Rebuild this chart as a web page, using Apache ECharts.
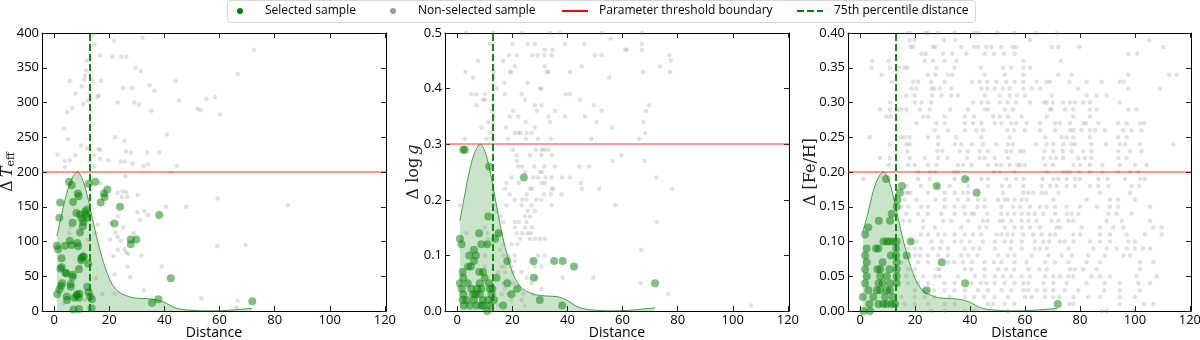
<!DOCTYPE html>
<html>
<head>
<meta charset="utf-8">
<script src="https://cdn.jsdelivr.net/npm/echarts@6/dist/echarts.min.js"></script>
<style>
  html, body { margin: 0; padding: 0; background: #fff; }
  #chart { width: 1200px; height: 340px; }
</style>
</head>
<body>
<div id="chart"></div>
<script>
(function() {
  // shared x axis
  const xTicks = [0, 20, 40, 60, 80, 100, 120];
  const xRange = [-4.4, 120.4];
  const p75Distance = 12.8;

  // KDE of selected-sample distance, scaled to each threshold
  const kdeX = [1.0, 2.8, 4.6, 6.4, 8.4, 10, 11.8, 13, 14.8, 16.6, 18.4, 20.2, 22, 23.9, 26.3, 28.7, 32.3, 35.9, 38.3, 40.7, 43.1, 45.5, 50, 55, 60, 65, 71.7];
  const kdeTeff = [108, 140, 170, 190, 200, 192, 170, 149, 117, 88, 64, 45, 33, 26, 22, 19, 18, 17, 15, 11, 6, 3, 1, 0.2, 0.3, 1.6, 3.8];
  const kdeLogg = [0.162, 0.21, 0.255, 0.285, 0.3, 0.288, 0.255, 0.224, 0.176, 0.132, 0.096, 0.068, 0.05, 0.039, 0.033, 0.029, 0.027, 0.026, 0.023, 0.017, 0.009, 0.0045, 0.0015, 0.0003, 0.0005, 0.0024, 0.0057];
  const kdeFeh = [0.114, 0.14, 0.17, 0.19, 0.2, 0.192, 0.17, 0.149, 0.117, 0.088, 0.064, 0.045, 0.033, 0.026, 0.022, 0.019, 0.018, 0.017, 0.015, 0.011, 0.006, 0.003, 0.001, 0.0002, 0.0003, 0.0016, 0.0038];

  // panel 1: delta Teff
  const teffSel = [[5.4,186],[6.4,181],[2.2,156],[1.9,134],[8.6,169],[8.9,165],[6.9,157],[12.5,183],[14.9,186],[18.1,169],[19.3,175],[18.3,164],[16.9,156],[23.9,150],[21.9,126],[27.8,103],[27.8,96],[29.8,103],[38.1,138],[42.3,47],[37.8,17],[35.5,12],[8.1,141],[9.4,139],[10,133],[10.6,128],[11.2,143],[11.6,139],[12,146],[12,134],[10.4,122],[6.7,127],[9.4,113],[5.7,101],[6.3,95],[8.4,98],[8.7,93],[4,94],[1,94],[1.4,89],[2.7,76],[2.3,61],[2.8,63],[9.8,76],[10.4,78],[4.5,54],[6.7,49],[9,60],[12.4,68],[6,39],[6,35],[2.5,36],[1.9,31],[1.1,24],[4.6,21],[8.3,24],[9,19],[7.4,19],[12,35],[13,21],[13.7,17],[9,3],[7,2],[12.5,27],[71.9,14],[2.9,40],[4.1,55],[6.8,52],[9.9,73],[10.8,78],[13.6,4],[8.2,22],[9.2,25],[4.7,16]];
  const teffNon = [[14,397],[14.6,383],[21.8,389],[32.1,393],[72.5,376],[16.7,368],[21.1,366],[24.3,366],[26.2,366],[11.8,360],[11.6,346],[29.5,350],[31.4,345],[11.2,339],[5.6,331],[10.9,333],[14,331],[17,331],[44.1,331],[66.6,341],[10,323],[25.1,321],[28.4,321],[34.6,325],[36.4,317],[7.7,313],[16.2,310],[15.7,308],[10.6,298],[12.1,303],[23,300],[29.1,300],[30.8,297],[45.3,303],[52,291],[53.2,289],[55.3,305],[58.4,308],[60.2,283],[6.6,292],[4.8,286],[35.4,288],[3.6,263],[5.1,247],[9.8,238],[7.7,224],[12,234],[16.1,233],[16.8,232],[22.1,250],[25.5,245],[40.9,254],[1.2,225],[3.9,216],[3.9,207],[5.7,217],[14.5,224],[16.7,219],[19.7,217],[24.2,215],[25.7,215],[26.1,230],[27.9,228],[28.4,212],[33.8,228],[38.2,228],[32.4,208],[34,211],[44.5,209],[42.3,199],[25.9,194],[12.8,216],[14.6,208],[16.7,184],[23,170],[24.8,172],[26.1,171],[24.5,164],[26.6,164],[30.3,167],[47.9,150],[59.3,162],[84.8,152],[30.2,142],[32.7,144],[31.2,131],[40.6,150],[34,138],[23.2,136],[20.5,126],[25.1,120],[22.3,113],[23,107],[20.3,103],[28.8,112],[24.2,101],[15.7,124],[15.1,112],[5.4,112],[6,121],[9.8,114],[23.1,88],[25.5,89],[26.1,84],[21.5,79],[26.9,82],[31.7,80],[26.6,64],[39,64],[27.6,49],[21.9,53],[15.1,47],[32.6,30],[17.5,25],[21.9,25],[59.2,93],[69.5,95],[53.4,18],[66.6,15],[66.2,5],[3.4,11],[11.2,16],[9.4,64],[11.6,73],[10.6,83],[12.1,102]];

  // panel 2: delta log g
  const loggSel = [[2.2,0.29],[2.8,0.29],[24.2,0.24],[11.6,0.26],[11.3,0.17],[1,0.13],[1.6,0.12],[8,0.14],[8.8,0.12],[6.1,0.11],[11,0.12],[13.8,0.13],[15,0.14],[4.4,0.10],[6.8,0.10],[6.1,0.09],[27.7,0.09],[35.2,0.09],[38.3,0.09],[42.4,0.08],[18.2,0.09],[27.8,0.06],[14.3,0.06],[18.2,0.05],[1,0.05],[71.8,0.05],[4,0.08],[5,0.08],[2.2,0.06],[2,0.07],[8,0.07],[9.4,0.07],[10,0.06],[3.8,0.05],[8.2,0.05],[11.6,0.05],[1.6,0.04],[5.2,0.04],[7.3,0.04],[8.8,0.04],[11.9,0.04],[12.8,0.04],[21.8,0.04],[2.2,0.03],[5.8,0.03],[6.8,0.03],[8.2,0.03],[12.5,0.03],[19.7,0.03],[2,0.02],[3.4,0.02],[6.1,0.02],[9.4,0.02],[11.3,0.02],[30,0.02],[13.4,0.02],[2.4,0.01],[4.6,0.01],[8.8,0.01],[9.4,0.01],[11.9,0.01],[16.7,0.01],[38.1,0.01],[7,0.01],[10.9,0]];
  const loggNonRows = [
    [0.50, [3.4, 13.1, 23.6, 33.7, 37.3, 52.4, 67.2]],
    [0.49, [55.7]],
    [0.48, [11.9, 20.1, 25.6, 28.2, 39.1, 46.1, 67]],
    [0.47, [31.8, 34.6, 61, 61.6, 67]],
    [0.46, [18.8, 21.6, 27.2, 29.2, 31.6, 34.3, 50, 52.4, 77]],
    [0.45, [7.6, 16.7, 77.5]],
    [0.44, [20.9, 31.8, 45.2, 73.6]],
    [0.43, [3.0, 13.4, 19.1, 19.7, 32.5, 33.1, 40.9, 67.6, 77.3]],
    [0.42, [5.8, 13.4, 55.2]],
    [0.41, [17.1, 25.6]],
    [0.40, [14.3, 30.0, 30.6]],
    [0.39, [5.2, 7.0, 10.1, 17.3, 23.4, 39.4, 40.9]],
    [0.38, [9.4, 10.1, 24.6, 44.6]],
    [0.37, [7.0, 13.1, 28.2, 30.6, 49.6, 69.6]],
    [0.36, [12.5, 20.3, 28.8, 35.5, 52.4, 68.5]],
    [0.35, [13.4, 19.1, 22.2, 33.1, 39.1, 46.4]],
    [0.34, [11.3, 13.1, 24.9, 33.7, 50.6, 67.6]],
    [0.33, [8.8, 17.7, 28.2, 56.1]],
    [0.32, [12.5, 20.9, 22.2, 23.1, 25.2, 27.0, 68.2]],
    [0.31, [2.8, 10.7, 12.8, 18.5, 24.9, 29.4, 34.0, 48.6, 66]],
    [0.29, [20.3, 28.5, 30.6, 31.6, 33.1]],
    [0.28, [21.6, 26.4, 30.6, 34.3, 59.5]],
    [0.27, [21.6, 56.4, 68]],
    [0.26, [22.2, 23.6, 28.0, 31.6, 35.5, 44.3, 47.8]],
    [0.25, [24.6, 30.0, 30.9]],
    [0.24, [19.7, 27.6, 29.4, 32.1, 34.3, 38.1, 40.9, 72.2]],
    [0.23, [17.9, 22.5, 30.6, 31.8, 44.9]],
    [0.22, [17.3, 26.4, 27.2, 34.3, 34.9, 45.2, 51.5, 78.1]],
    [0.21, [13.1, 19.1, 25.2, 31.6, 34.0, 37.9]],
    [0.20, [20.9, 23.6, 25.2, 28.8, 30.6]],
    [0.19, [1.0, 13.1, 17.9, 23.4, 27.0, 34.3, 57.3]],
    [0.18, [14.3, 25.6, 28.2]],
    [0.17, [15.9, 24.6, 26.4]],
    [0.16, [16.7, 20.9, 22.4, 25.2, 72.4]],
    [0.15, [10.1, 20.9, 24.6, 27.2]],
    [0.14, [3.4, 11.0, 14.9, 21.6, 23.6, 25.6, 26.8]],
    [0.13, [11.0, 22.8, 26.4, 28.2, 30.0, 31.8]],
    [0.12, [10.7, 16.7, 19.7, 21.9]],
    [0.11, [15.5, 66.8]],
    [0.10, [10.1, 16.7, 18.5, 20.9, 29.4, 31.8]],
    [0.09, [20.9]],
    [0.08, [10.1, 16.1, 17.3, 19.7, 28.2, 30.6]],
    [0.07, [14.9, 17.3, 20.3, 23.4]],
    [0.06, [25.2, 28.8, 38.3, 49.4]],
    [0.05, [10.1, 16.7, 20.3, 27.0, 66.6]],
    [0.04, [17.3, 30.6]],
    [0.03, [16.1, 18.5, 24.0, 27.6, 76.6]],
    [0.02, [19.7, 23.4]],
    [0.01, [11.3, 14.9, 24.6, 106.6]]
  ];

  // panel 3: delta [Fe/H]
  const fehSel = [[9.5,0.19],[15.2,0.18],[27.9,0.18],[38.2,0.19],[42.4,0.17],[14.5,0.17],[13.6,0.16],[11.5,0.14],[13.3,0.15],[6.8,0.13],[10.9,0.13],[3,0.12],[1.8,0.11],[8.5,0.10],[9.7,0.10],[10.7,0.10],[12.1,0.10],[13.3,0.10],[18.4,0.10],[2.4,0.09],[5.8,0.09],[6.7,0.09],[13.1,0.09],[1.8,0.08],[11.2,0.08],[13.1,0.08],[17,0.08],[29.7,0.07],[2.4,0.07],[8.2,0.07],[13.3,0.07],[1.8,0.06],[6.3,0.06],[7.3,0.06],[10.7,0.06],[13.3,0.06],[2.4,0.05],[7.3,0.05],[9.7,0.05],[13.3,0.05],[1.8,0.04],[6.7,0.04],[8.2,0.04],[10.9,0.04],[13.3,0.04],[38.2,0.04],[3,0.03],[6.1,0.03],[7.3,0.03],[9.7,0.03],[10.9,0.03],[24.2,0.03],[1,0.02],[4.8,0.02],[9.1,0.02],[11.9,0.02],[3.4,0.01],[6.7,0.01],[8.5,0.01],[9.7,0.01],[11.5,0.01],[12.7,0.01],[71.9,0.01],[1.2,0],[3.6,0]];
  const fehNonRows = [
    [0.40, [17.2, 18.4, 23.8, 24.7, 28.4, 34.4, 41.5, 42.9, 49.9, 56.2, 64.2, 71.5]],
    [0.39, [18, 19.9, 30.5, 34.7, 61.8, 105.2]],
    [0.38, [18.4, 19.3, 26.5, 27.4, 36.8, 41.5, 42.9, 45.9, 47.8, 51.4, 55.6, 56.8, 69.7, 72.1, 79.8, 110.3]],
    [0.37, [22.3, 23.9, 30.2, 33.5, 38.7, 45.3, 48.7, 52.4, 56.2, 97.6, 100.8]],
    [0.36, [4.4, 10.4, 23.5, 26.5, 30.8, 35, 59.4, 73]],
    [0.35, [4.1, 10.8, 14.1, 16.2, 17.2, 27.8, 34.4, 43.9, 52, 55, 59.4, 61.8]],
    [0.34, [7.8, 24.7, 27.4, 32, 33.5, 45.3, 52.6, 59.4, 72.1, 77, 97.6, 112.5, 115.2]],
    [0.33, [11.6, 19.3, 21.1, 25.9, 30.8, 40.7, 43.5, 46.3, 49.6, 53.2, 56.2, 59.4, 64.2, 67.9, 69.1, 76.1, 82.4, 87.9, 94.5, 96]],
    [0.32, [18.7, 20.5, 25.9, 26.9, 29, 33.2, 44.1, 46.3, 49, 52, 54.4, 59.4, 62.4, 65.5, 79.4, 97.6, 109.1]],
    [0.31, [16.8, 19.9, 26.2, 29.6, 33.2, 35.6, 45.3, 50.8, 54.4, 57.2, 60, 69.7, 82.4, 86.1, 89.7]],
    [0.30, [10.8, 19.9, 22.3, 25.9, 41.1, 44.1, 46.5, 50.8, 53.6, 56.8, 61.8, 67, 67.9, 70.1, 73.9, 76.4, 78.2, 81.2, 83.6, 94.5]],
    [0.29, [7.2, 10.8, 13.8, 15, 16.8, 21.7, 25.3, 32.8, 39.3, 45.3, 46.5, 52.6, 55.6, 69.1, 69.7, 74.5, 77.6, 83.6, 86.1, 97.6, 100.6]],
    [0.28, [9.6, 11.2, 22.9, 24.7, 30.8, 38.1, 41.5, 48.4, 50.8, 53.8, 58.8, 67.9, 77.6, 83.6]],
    [0.27, [20.5, 27.8, 30.8, 38.1, 41.1, 44.1, 49, 51.4, 55, 56.8, 60.6, 65.5, 70.9, 72.7, 76.4, 81.2, 82.2, 86.7, 93.9, 97, 101.8, 103.3]],
    [0.26, [27.2, 32, 38.1, 42.3, 44.7, 53.6, 56, 60, 65.5, 70.9, 76.4, 77.6, 80.6, 83.6, 85.5, 89.1, 95.8, 98.8, 102.4]],
    [0.25, [3.5, 15, 16.2, 18, 24.7, 28.4, 35, 44.1, 54.4, 67.3, 73.3, 75.2, 77.6, 83.6, 93.9, 97]],
    [0.24, [10.8, 16.8, 18, 28.4, 34.4, 36.8, 40.7, 44.7, 49.6, 53.8, 55.6, 64, 67.9, 70.3, 73.9, 77, 78.2, 84.2, 89.5, 94.5, 96.4, 101.8, 114]],
    [0.23, [17.2, 28.1, 29.9, 36.2, 39.3, 43.5, 46.5, 53.2, 55, 58.2, 59.4, 67, 70.3, 73.7, 77, 81.2, 84.2, 93.9, 98.2, 102.4]],
    [0.22, [7.2, 10.8, 18, 23.5, 28.4, 31.8, 39, 43.5, 45.3, 49, 53.8, 66.7, 69.3, 71.3, 73.9, 79.4, 81.8, 84.2, 93.9, 97]],
    [0.21, [10.4, 17.5, 19.9, 24.7, 27.8, 35.6, 37.5, 40.5, 46.5, 49.6, 51.4, 54.4, 57.2, 58.2, 60, 67.3, 70.1, 77.6, 80, 83.6, 88.2, 94.5, 100, 104.2]],
    [0.20, [21.1, 25.3, 27.2, 34.2, 35.6, 48.7, 50.8, 56.2, 67.9, 73.9, 75.2, 76.4, 79.8, 83.6, 88.2, 93.9, 98.2, 101.2]],
    [0.19, [1.1, 21.1, 25.3, 34.4, 39.3, 44.1, 46.5, 53.2, 56.8, 59.4, 66.4, 70.3, 72.1, 75.2, 78.2, 80, 86.7, 90, 96.4, 101.8, 103.6]],
    [0.18, [16.8, 22.1, 28.1, 32.6, 39.3, 46.5, 51.6, 54.4, 59.4, 66.1, 69.1, 71.5, 75.2, 78.2, 83.6, 86.7, 90.3, 98.8, 101.6]],
    [0.17, [16.8, 17.5, 18.4, 24.7, 30.8, 34.4, 37.5, 39.3, 52, 59.4, 61.2, 63, 66.1, 67.6, 72.1, 87.3, 98.2]],
    [0.16, [16.2, 20.5, 27.4, 30.8, 35.6, 39.3, 42.9, 45.3, 50.2, 52.6, 53.8, 56.2, 58.8, 60.6, 70.3, 82.4, 90.9, 93.9, 100]],
    [0.15, [15, 17.5, 22.1, 24.7, 30.8, 34.4, 37.8, 42.7, 45.3, 51.4, 55.6, 58.2, 61.8, 65.5, 67.9, 70.9, 75.2, 80, 86.1, 90.9, 93.9, 105.5]],
    [0.14, [16.8, 21.1, 24.7, 29.6, 34.4, 38.1, 40.5, 41.5, 46.3, 51.4, 53.6, 56.2, 58.8, 61.2, 63.6, 66.7, 70.9, 75.2, 77, 79.4, 90.3, 93.3, 98.8]],
    [0.13, [15.6, 18, 22.9, 30.2, 33.2, 39.3, 44.7, 46.5, 50.8, 52, 55, 58.8, 61.2, 64.2, 69.7, 72.1, 75.8, 77.6, 89.7, 95.2, 105.5]],
    [0.12, [22.9, 27.2, 36.8, 43.5, 45.9, 52.6, 56.2, 58.8, 61.8, 65.5, 71.5, 72.7, 80.6, 87.3, 92.1, 95.8, 106.7, 109.7]],
    [0.11, [22.1, 24.7, 28.4, 30.8, 34.4, 38.1, 41.1, 44.1, 49.6, 51.4, 53.6, 55.6, 59.4, 63, 66.1, 69.1, 70.9, 77.6, 80, 87.3, 90.9, 97, 103.6, 109.7]],
    [0.10, [18.7, 20.5, 25.9, 29.6, 34.4, 36.8, 39.9, 44.7, 49, 52.6, 55, 58.8, 63.6, 66.7, 68.8, 72.7, 74.5, 77.6, 83.6, 87.3, 90.9, 97.6, 100]],
    [0.09, [17.5, 19.9, 22.1, 26.5, 29, 32, 38.1, 41.1, 43.5, 49, 54.8, 58.8, 63.6, 65.5, 67.9, 75.8, 84.8, 89.7, 93.3, 97, 100, 103, 105.5]],
    [0.08, [19.9, 21.7, 24.7, 28.4, 32, 36.8, 39.3, 42.7, 50.2, 53.8, 56.2, 62.4, 68.5, 73.3, 77, 83, 89.1, 95.8, 98.2]],
    [0.07, [15, 21.1, 24.7, 32, 34.2, 37.5, 40.7, 45.3, 48.7, 51.4, 56.2, 60.6, 67.3, 70.9, 75.8, 82.4, 87.3, 101.8, 106.7]],
    [0.06, [17.5, 19.9, 28.1, 29, 38.1, 40.5, 45.3, 50.2, 53.2, 56, 61.2, 65.2, 67.9, 76.4, 78.2, 81.2, 86.1, 101.8]],
    [0.05, [16.8, 19.9, 22.9, 27.2, 29, 35.6, 41.7, 45.3, 49, 52, 55, 58.8, 61.8, 67.3, 70.3, 72.7, 75.8, 77.6, 84.2, 87.3, 90.9, 100.6, 107.9]],
    [0.04, [17.5, 21.1, 24.7, 30.8, 34.4, 40.5, 43.9, 45.9, 49, 52.6, 56.2, 59.4, 61.2, 66.7, 70.3, 75.2, 82.4, 89.1, 94.5, 101.2, 105.5]],
    [0.03, [19.9, 22.9, 24.7, 26.9, 30.8, 34.4, 38.1, 42.9, 46.5, 51.4, 55, 59.4, 61.2, 64.2, 67.3, 70.3, 74.5, 79.4, 88.8, 94.5, 101.8]],
    [0.02, [15, 19.9, 23.5, 26.9, 32.6, 38.1, 41.5, 45.1, 49, 53.8, 60, 62.4, 67.3, 70.3, 72.5, 77.6, 83, 87.3, 94.5, 100]],
    [0.01, [11.4, 16.2, 19.9, 24.7, 30.8, 34.4, 46.5, 48.4, 52.6, 56.2, 76.1, 77.6, 94.5, 103.3, 106.7]],
    [0.00, [25.9, 30.8, 38.1, 41.7, 53.8, 87.9, 89.7, 99.4]]
  ];

  const rowsToPoints = rows => rows.flatMap(([y, xs]) => xs.map(x => [x, y]));

  const panels = [{
    sel: teffSel, non: teffNon, kde: kdeTeff, thr: 200,
    yMax: 400, yStep: 50, digits: 0,
    name: '{d|Δ} {i|T}{s|eff}', nameGap: 25, left: 42, width: 344
  }, {
    sel: loggSel, non: rowsToPoints(loggNonRows), kde: kdeLogg, thr: 0.3,
    yMax: 0.5, yStep: 0.1, digits: 1,
    name: '{d|Δ log} {i|g}', nameGap: 23, left: 445, width: 344
  }, {
    sel: fehSel, non: rowsToPoints(fehNonRows), kde: kdeFeh, thr: 0.2,
    yMax: 0.4, yStep: 0.05, digits: 2,
    name: '{d|Δ [Fe/H]}', nameGap: 29, left: 848, width: 343
  }];

  const sans = '"Open Sans", "DejaVu Sans", sans-serif';
  const serif = '"DejaVu Serif", "Liberation Serif", serif';
  const tickStyle = { inside: true, length: 5, lineStyle: { color: '#222', width: 1 } };
  const lineStyle = { onZero: false, lineStyle: { color: '#000', width: 1 } };

  const grid = [], xAxis = [], yAxis = [], series = [];
  panels.forEach((p, i) => {
    grid.push({ left: p.left, width: p.width, top: 33, height: 278, containLabel: false, outerBoundsMode: 'none' });

    const xBase = {
      gridIndex: i, type: 'value', min: xRange[0], max: xRange[1],
      splitLine: { show: false }, axisLine: lineStyle,
      axisTick: Object.assign({ customValues: xTicks }, tickStyle)
    };
    xAxis.push(Object.assign({}, xBase, {
      position: 'bottom',
      name: 'Distance', nameLocation: 'middle', nameGap: 15, nameMoveOverlap: false,
      nameTextStyle: { fontFamily: sans, fontSize: 14, color: '#000' },
      axisLabel: { customValues: xTicks, margin: 3, fontFamily: sans, fontSize: 13, color: '#000' }
    }));
    xAxis.push(Object.assign({}, xBase, { position: 'top', axisLabel: { show: false } }));

    const yBase = {
      gridIndex: i, type: 'value', min: 0, max: p.yMax, interval: p.yStep,
      splitLine: { show: false }, axisLine: lineStyle, axisTick: tickStyle
    };
    yAxis.push(Object.assign({}, yBase, {
      position: 'left',
      name: p.name, nameLocation: 'middle', nameGap: p.nameGap, nameRotate: 90, nameMoveOverlap: false,
      nameTextStyle: {
        color: '#222',
        rich: {
          d: { fontFamily: serif, fontSize: 16, color: '#222' },
          i: { fontFamily: serif, fontStyle: 'italic', fontSize: 16, color: '#222' },
          s: { fontFamily: serif, fontSize: 11, color: '#222', padding: [8, 0, 0, 0] }
        }
      },
      axisLabel: {
        margin: 3, fontFamily: sans, fontSize: 13, color: '#000',
        formatter: v => v.toFixed(p.digits)
      }
    }));
    yAxis.push(Object.assign({}, yBase, { position: 'right', axisLabel: { show: false } }));

    const xi = 2 * i, yi = 2 * i;
    series.push({
      type: 'line', name: 'kde', xAxisIndex: xi, yAxisIndex: yi,
      data: kdeX.map((x, k) => [x, p.kde[k]]),
      smooth: 0.35, showSymbol: false, silent: true, z: 1,
      lineStyle: { color: 'rgba(0,128,0,0.7)', width: 1 },
      areaStyle: { color: 'rgba(0,128,0,0.3)' }
    });
    series.push({
      type: 'scatter', name: 'Non-selected sample', xAxisIndex: xi, yAxisIndex: yi,
      data: p.non, symbolSize: 4.5, z: 2,
      itemStyle: { color: 'rgba(128,128,128,0.3)' }
    });
    series.push({
      type: 'scatter', name: 'Selected sample', xAxisIndex: xi, yAxisIndex: yi,
      data: p.sel, symbolSize: 8, z: 3,
      itemStyle: { color: 'rgba(0,128,0,0.62)' }
    });
    series.push({
      type: 'line', name: 'Parameter threshold boundary', xAxisIndex: xi, yAxisIndex: yi,
      data: [], color: 'red', z: 4,
      markLine: {
        silent: true, symbol: 'none', label: { show: false }, animation: false,
        lineStyle: { color: 'rgba(255,0,0,0.55)', width: 1.5, type: 'solid' },
        data: [{ yAxis: p.thr }]
      }
    });
    series.push({
      type: 'line', name: '75th percentile distance', xAxisIndex: xi, yAxisIndex: yi,
      data: [], color: 'green', z: 5,
      markLine: {
        silent: true, symbol: 'none', label: { show: false }, animation: false,
        lineStyle: { color: '#138a13', width: 2, type: [7, 3] },
        data: [{ xAxis: p75Distance }]
      }
    });
  });

  // one legend per entry so each can sit where the reference has it
  const legendItems = [
    { left: 237, width: 12, name: 'Selected sample', icon: 'circle', color: 'green' },
    { left: 390, width: 12, name: 'Non-selected sample', icon: 'circle', color: '#9a9a9a' },
    { left: 562, width: 26, name: 'Parameter threshold boundary', icon: 'path://M0,0H26V2H0Z', color: 'red' },
    { left: 797, width: 26, name: '75th percentile distance', icon: 'path://M0,0H7V2H0ZM10,0H17V2H10ZM20,0H26V2H20Z', color: 'green' }
  ];
  const legend = legendItems.map(it => ({
    left: it.left, top: 5, padding: 0, selectedMode: false,
    itemWidth: it.width, itemHeight: 6,
    textStyle: { fontFamily: sans, fontSize: 12, color: '#000', padding: [0, 0, 0, it.icon === 'circle' ? 14 : 6] },
    data: [{ name: it.name, icon: it.icon, itemStyle: { color: it.color, opacity: 1 } }]
  }));

  const option = {
    animation: false,
    textStyle: { fontFamily: sans },
    graphic: [{
      type: 'rect', left: 227, top: 0, z: -1,
      shape: { width: 748, height: 22, r: 3 },
      style: { fill: '#fff', stroke: '#d6d6d6', lineWidth: 1 }
    }],
    legend: legend,
    grid: grid,
    xAxis: xAxis,
    yAxis: yAxis,
    series: series
  };

  const chart = echarts.init(document.getElementById('chart'));
  chart.setOption(option);
}());
</script>
</body>
</html>
